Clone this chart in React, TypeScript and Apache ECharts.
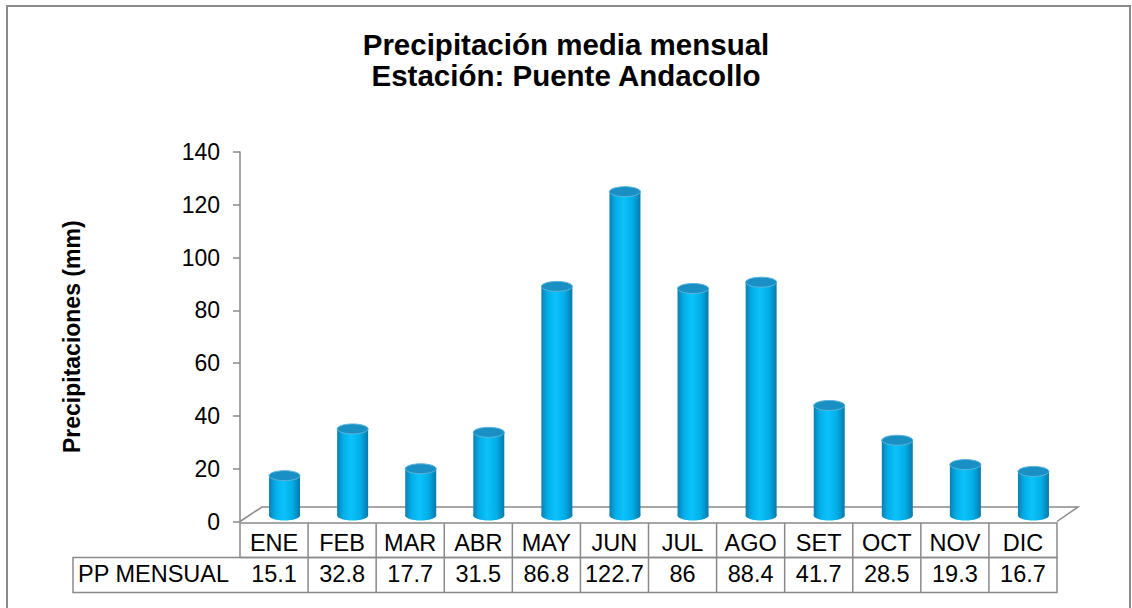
import React, { useEffect, useRef } from "react";
import * as echarts from "echarts";

const categories = ["ENE", "FEB", "MAR", "ABR", "MAY", "JUN", "JUL", "AGO", "SET", "OCT", "NOV", "DIC"];
const ppMensual = [15.1, 32.8, 17.7, 31.5, 86.8, 122.7, 86, 88.4, 41.7, 28.5, 19.3, 16.7];
const rowLabel = "PP MENSUAL";
const titleLines = ["Precipitación media mensual", "Estación: Puente Andacollo"];
const yAxisName = "Precipitaciones (mm)";
const yMin = 0;
const yMax = 140;
const yInterval = 20;

const FONT = "'Liberation Sans', Arial, sans-serif";
const W = 1132;
const H = 608;
const GL = 240;
const GR = 1057;
const GT = 152;
const GB = 521.5;
const COLW = (GR - GL) / categories.length;
const DX = 10.5;
const DY = -6;
const GRAY = "#8a8a8a";
const TABLE_FS = 23.5;

export default function App() {
  const ref = useRef<HTMLDivElement>(null);

  useEffect(() => {
    if (!ref.current) return;
    const chart = echarts.init(ref.current, null, { renderer: "svg" });

    const bodyGrad = () =>
      new echarts.graphic.LinearGradient(0, 0, 1, 0, [
        { offset: 0, color: "#0b7fb2" },
        { offset: 0.2, color: "#03aee8" },
        { offset: 0.45, color: "#0cc2fa" },
        { offset: 0.75, color: "#02aee8" },
        { offset: 1, color: "#0a78a8" },
      ]);

    const row1Top = 523;
    const row2Top = 557.5;
    const row2Bot = 592.5;
    const tableLeft = 73;

    const graphics: any[] = [
      {
        type: "rect",
        shape: { x: 7, y: 6, width: 1123, height: 640 },
        style: { fill: "none", stroke: GRAY, lineWidth: 2 },
        silent: true,
        z: 0,
      },
      {
        type: "polyline",
        shape: { points: [[GL, GB], [GL + 22, GB - 14.5], [GR + 21, GB - 14.5], [GR, GB]] },
        style: { fill: "none", stroke: GRAY, lineWidth: 1.5 },
        silent: true,
        z: 1,
      },
      {
        type: "rect",
        shape: { x: GL, y: row1Top, width: GR - GL, height: row2Top - row1Top },
        style: { fill: "none", stroke: GRAY, lineWidth: 1.5 },
        silent: true,
      },
      {
        type: "rect",
        shape: { x: tableLeft, y: row2Top, width: GR - tableLeft, height: row2Bot - row2Top },
        style: { fill: "none", stroke: GRAY, lineWidth: 1.5 },
        silent: true,
      },
      {
        type: "text",
        x: tableLeft + 5,
        y: (row2Top + row2Bot) / 2 - 1,
        style: {
          text: rowLabel,
          fontSize: TABLE_FS,
          fontFamily: FONT,
          fill: "#000",
          verticalAlign: "middle",
          align: "left",
        },
      },
    ];
    for (let i = 1; i < categories.length; i++) {
      const x = GL + COLW * i;
      graphics.push({
        type: "line",
        shape: { x1: x, y1: row1Top, x2: x, y2: row2Bot },
        style: { stroke: GRAY, lineWidth: 1.5 },
        silent: true,
      });
    }

    chart.setOption({
      animation: false,
      backgroundColor: "#fff",
      title: {
        text: titleLines.join("\n"),
        left: "center",
        top: 24,
        textStyle: {
          fontSize: 29.5,
          fontWeight: "bold",
          fontFamily: FONT,
          color: "#000",
          lineHeight: 31,
        },
      },
      grid: { left: GL, top: GT, width: GR - GL, height: GB - GT },
      xAxis: [
        {
          type: "category",
          data: categories,
          axisLine: { show: false },
          axisTick: { show: false },
          axisLabel: {
            interval: 0,
            fontSize: TABLE_FS,
            fontFamily: FONT,
            color: "#000",
            margin: 21,
            verticalAlign: "middle",
          },
        },
        {
          type: "category",
          position: "bottom",
          data: ppMensual.map((v) => String(v)),
          axisLine: { show: false },
          axisTick: { show: false },
          axisLabel: {
            interval: 0,
            fontSize: TABLE_FS,
            fontFamily: FONT,
            color: "#000",
            margin: 52,
            verticalAlign: "middle",
          },
        },
      ],
      yAxis: {
        type: "value",
        min: yMin,
        max: yMax,
        interval: yInterval,
        name: yAxisName,
        nameLocation: "middle",
        nameGap: 157,
        nameRotate: 90,
        nameTextStyle: { fontSize: 23, fontWeight: "bold", fontFamily: FONT, color: "#000" },
        axisLine: { show: true, lineStyle: { color: GRAY, width: 1.5 } },
        axisTick: { show: true, length: 7, lineStyle: { color: GRAY, width: 1.5 } },
        axisLabel: { fontSize: 23, fontFamily: FONT, color: "#000", margin: 20 },
        splitLine: { show: false },
      },
      graphic: graphics,
      series: [
        {
          type: "custom",
          xAxisIndex: 0,
          data: ppMensual.map((v, i) => [i, v]),
          renderItem: (params: any, api: any) => {
            const b = api.coord([api.value(0), 0]);
            const t = api.coord([api.value(0), api.value(1)]);
            const cx = b[0] + DX;
            const base = b[1] + DY;
            const top = t[1] + DY;
            const w = 31;
            const rx = w / 2;
            const ry = 5;
            return {
              type: "group",
              children: [
                {
                  type: "ellipse",
                  shape: { cx, cy: base, rx, ry },
                  style: { fill: bodyGrad() },
                },
                {
                  type: "rect",
                  shape: { x: cx - rx, y: top, width: w, height: base - top },
                  style: { fill: bodyGrad() },
                },
                {
                  type: "ellipse",
                  shape: { cx, cy: top, rx, ry },
                  style: { fill: "#1a8fc4", stroke: "#5ab6dc", lineWidth: 1 },
                },
              ],
            };
          },
          z: 3,
        },
      ],
    });

    return () => chart.dispose();
  }, []);

  return (
    <div
      ref={ref}
      style={{ position: "fixed", left: 0, top: 0, width: W, height: H }}
    />
  );
}
